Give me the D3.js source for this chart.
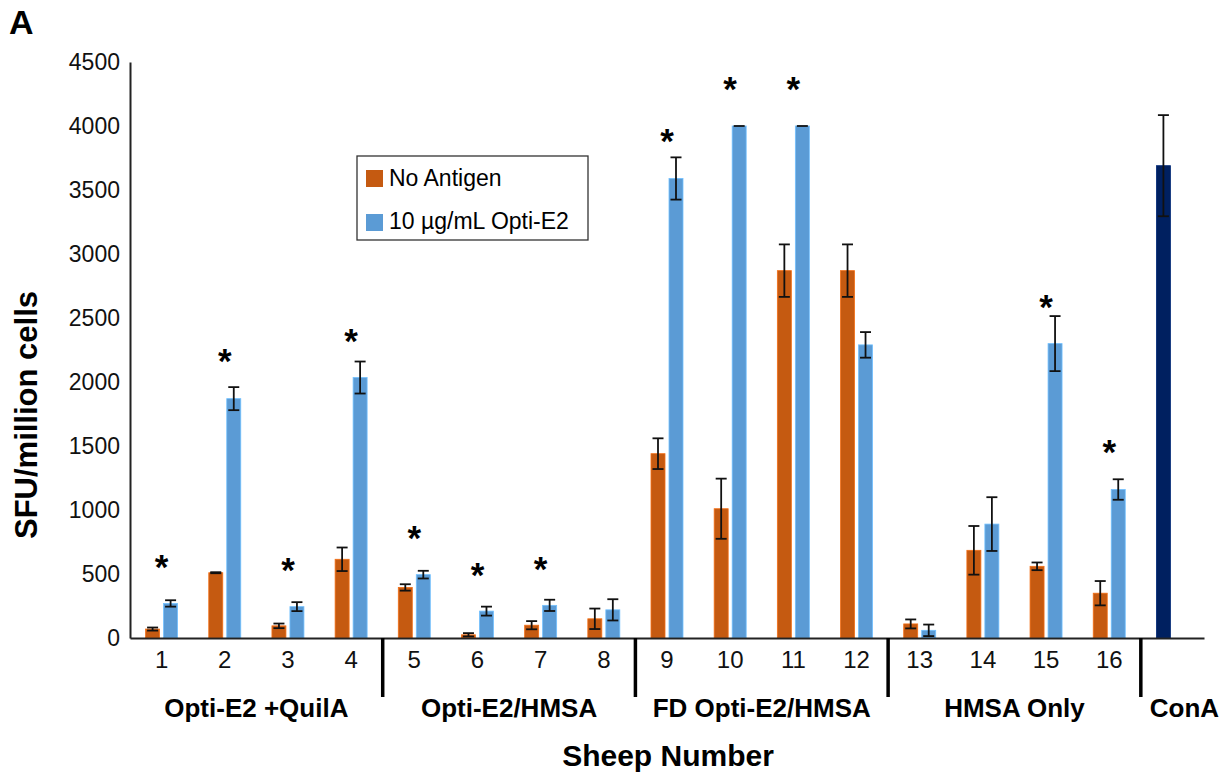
<!DOCTYPE html>
<html>
<head>
<meta charset="utf-8">
<script src="https://cdn.jsdelivr.net/npm/d3@7"></script>
<style>
  body { margin: 0; background: #fff; }
  text { font-family: "Liberation Sans", Arial, sans-serif; }
</style>
</head>
<body>
<script>
// Données
const categories = ['1', '2', '3', '4', '5', '6', '7', '8', '9', '10', '11', '12', '13', '14', '15', '16', 'ConA']
const seriesNames = ['No Antigen', '10 µg/mL Opti-E2']
const noAntigen = [70, 510, 95, 615, 395, 25, 100, 150, 1440, 1010, 2870, 2870, 110, 685, 560, 350]
const noAntigenErr = [12, 4, 18, 92, 25, 13, 32, 80, 120, 235, 205, 205, 35, 190, 30, 95]
const optiE2 = [270, 1870, 245, 2035, 495, 210, 255, 220, 3590, 4000, 4000, 2290, 60, 890, 2300, 1160]
const optiE2Err = [25, 90, 35, 125, 30, 35, 44, 83, 165, 0, 0, 100, 45, 210, 215, 80]
const conA = 3690
const conAErr = 395
const starSheep = ['1', '2', '3', '4', '5', '6', '7', '9', '10', '11', '15', '16']
const starLevel = [617, 2227, 594, 2383, 844, 555, 602, 3945, 4352, 4352, 2648, 1516]
const groups = ['Opti-E2 +QuilA', 'Opti-E2/HMSA', 'FD Opti-E2/HMSA', 'HMSA Only', 'ConA']
const groupFirst = ['1', '5', '9', '13', 'ConA']
const groupSize = [4, 4, 4, 4, 1]
const yTicks = [0, 500, 1000, 1500, 2000, 2500, 3000, 3500, 4000, 4500]

const colors = { 'No Antigen': '#C55A11', '10 µg/mL Opti-E2': '#5B9BD5', conA: '#002060' }

const W = 1223, H = 776
const plotLeft = 130, plotRight = 1204, plotTop = 62, plotBottom = 638

const svg = d3.select('body').append('svg')
  .attr('width', W)
  .attr('height', H)

const x = d3.scaleBand().domain(categories).range([plotLeft, plotRight])
const x1 = d3.scaleBand().domain(seriesNames)
  .range([x.bandwidth() / 2 - 16, x.bandwidth() / 2 + 16])
  .paddingInner(0.222)
const y = d3.scaleLinear().domain([0, 4500]).range([plotBottom, plotTop])

// Lignes de barres
const rows = []
noAntigen.forEach((v, i) => rows.push({ cat: categories[i], s: seriesNames[0], v, e: noAntigenErr[i], c: colors[seriesNames[0]] }))
optiE2.forEach((v, i) => rows.push({ cat: categories[i], s: seriesNames[1], v, e: optiE2Err[i], c: colors[seriesNames[1]] }))
rows.push({ cat: 'ConA', s: seriesNames[0], v: conA, e: conAErr, c: colors.conA })

svg.append('g').selectAll('rect')
  .data(rows)
  .enter()
  .append('rect')
    .attr('x', d => x(d.cat) + x1(d.s))
    .attr('y', d => y(d.v))
    .attr('width', x1.bandwidth())
    .attr('height', d => y(0) - y(d.v))
    .attr('fill', d => d.c)
    .attr('stroke', d => d3.color(d.c).brighter(0.6))
    .attr('stroke-width', 0.8)

// Barres d'erreur
const eb = svg.append('g').attr('stroke', '#111').attr('stroke-width', 1.8)
rows.forEach(d => {
  const cx = x(d.cat) + x1(d.s) + x1.bandwidth() / 2
  const hw = 5.5
  if (d.e > 0) {
    eb.append('line').attr('x1', cx).attr('x2', cx).attr('y1', y(d.v + d.e)).attr('y2', y(d.v - d.e))
    eb.append('line').attr('x1', cx - hw).attr('x2', cx + hw).attr('y1', y(d.v - d.e)).attr('y2', y(d.v - d.e))
  }
  eb.append('line').attr('x1', cx - hw).attr('x2', cx + hw).attr('y1', y(d.v + d.e)).attr('y2', y(d.v + d.e))
})

// Étoiles
svg.append('g').selectAll('text')
  .data(starSheep)
  .enter()
  .append('text')
    .attr('x', d => x(d) + x.bandwidth() / 2)
    .attr('y', (d, i) => y(starLevel[i]) + 20)
    .attr('text-anchor', 'middle')
    .attr('font-size', 35)
    .attr('font-weight', 'bold')
    .text('*')

// Axe Y
const yAxis = svg.append('g')
  .attr('transform', `translate(${plotLeft},0)`)
  .call(d3.axisLeft(y).tickValues(yTicks).tickSize(0).tickPadding(10).tickFormat(d3.format('d')))
yAxis.select('.domain').attr('stroke', '#222').attr('stroke-width', 2)
yAxis.selectAll('text').attr('font-size', 23).attr('fill', '#111')
  .style('font-family', '"Liberation Sans", Arial, sans-serif')

// Axe X
const xAxis = svg.append('g')
  .attr('transform', `translate(0,${plotBottom})`)
  .call(d3.axisBottom(x).tickSize(0).tickPadding(13).tickFormat(d => d === 'ConA' ? '' : d))
xAxis.select('.domain').attr('stroke', '#222').attr('stroke-width', 2)
xAxis.selectAll('text').attr('font-size', 24).attr('fill', '#111')
  .style('font-family', '"Liberation Sans", Arial, sans-serif')

// Séparateurs de groupes
groupFirst.slice(1).forEach(c => {
  svg.append('line')
    .attr('x1', x(c)).attr('x2', x(c))
    .attr('y1', plotBottom).attr('y2', 697)
    .attr('stroke', '#000').attr('stroke-width', 3.5)
})

// Noms de groupes
groups.forEach((g, i) => {
  const x0 = x(groupFirst[i])
  svg.append('text')
    .attr('x', x0 + groupSize[i] * x.step() / 2 + (g === 'ConA' ? 12 : 0))
    .attr('y', 717)
    .attr('text-anchor', 'middle')
    .attr('font-size', 26)
    .attr('font-weight', 'bold')
    .text(g)
})

// Titres des axes
svg.append('text')
  .attr('x', 668).attr('y', 766)
  .attr('text-anchor', 'middle')
  .attr('font-size', 30).attr('font-weight', 'bold')
  .text('Sheep Number')

svg.append('text')
  .attr('transform', 'translate(37,415) rotate(-90)')
  .attr('text-anchor', 'middle')
  .attr('font-size', 31).attr('font-weight', 'bold')
  .text('SFU/million cells')

svg.append('text')
  .attr('x', 9).attr('y', 34)
  .attr('font-size', 34).attr('font-weight', 'bold')
  .text('A')

// Légende
const lg = svg.append('g')
lg.append('rect')
  .attr('x', 357).attr('y', 156).attr('width', 231).attr('height', 84)
  .attr('fill', '#fff').attr('stroke', '#333').attr('stroke-width', 1.3)
seriesNames.forEach((s, i) => {
  lg.append('rect')
    .attr('x', 366).attr('y', 170 + i * 44).attr('width', 17).attr('height', 17)
    .attr('fill', colors[s])
  lg.append('text')
    .attr('x', 389).attr('y', 186 + i * 43)
    .attr('font-size', 23)
    .text(s)
})
</script>
</body>
</html>
